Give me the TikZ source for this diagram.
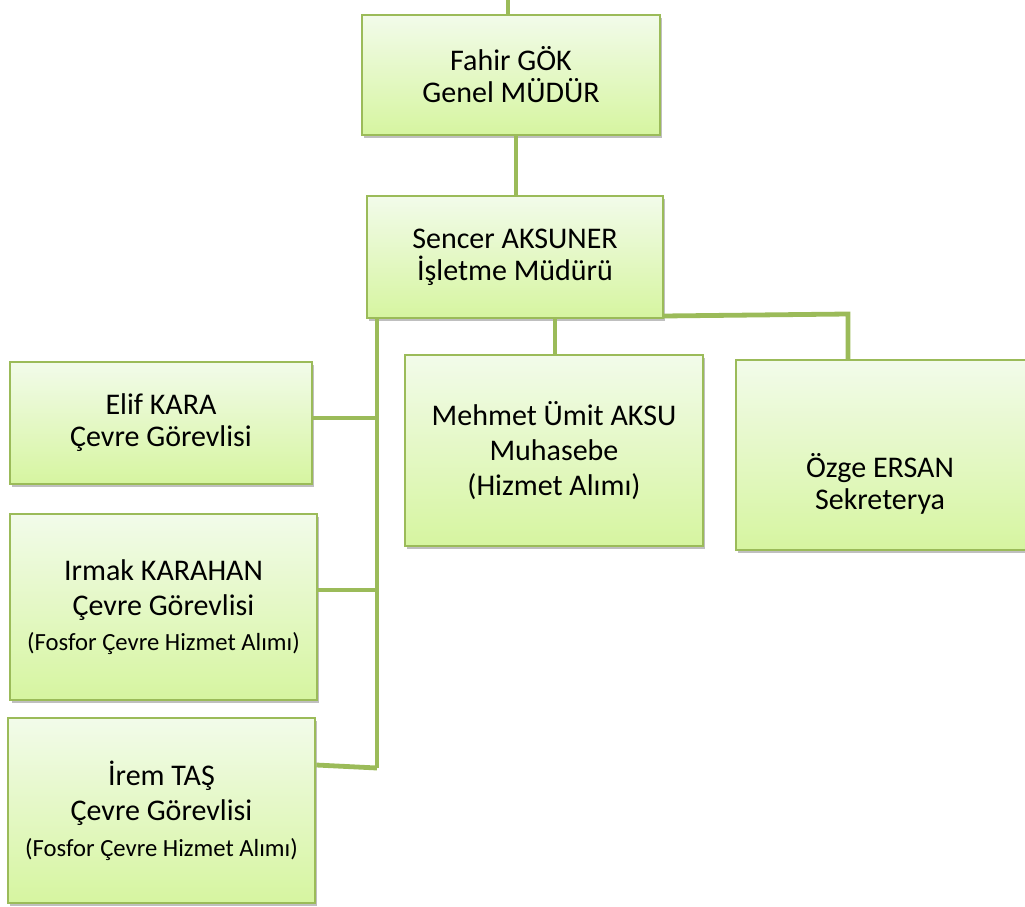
\documentclass[tikz,border=0pt]{standalone}
\usepackage{fontspec}
\setmainfont{Carlito}
\usetikzlibrary{shadows}
\definecolor{edge}{HTML}{9BBB59}
\definecolor{topc}{HTML}{F2FBEA}
\definecolor{botc}{HTML}{D6F5A0}
\tikzset{
  box/.style={draw=edge, line width=2pt, top color=topc, bottom color=botc,
    shading angle=0, align=center, inner sep=0pt, font=\fontsize{22.5}{24}\selectfont,
    drop shadow={shadow xshift=1.5pt, shadow yshift=-2pt, fill=black, opacity=0.25}},
  tallbox/.style={box, font=\fontsize{22.5}{26.5}\selectfont},
  conn/.style={draw=edge, line width=3.6pt}
}
\newcommand{\smalltxt}[1]{{\fontsize{18.5}{26.5}\selectfont #1}}
\begin{document}
\begin{tikzpicture}[x=0.75pt,y=-0.75pt]
\useasboundingbox (0,0) rectangle (1025,907);
% boxes
\node[box, minimum width=298*0.75pt, minimum height=120*0.75pt] (fahir) at (511,75) {Fahir GÖK\\Genel MÜDÜR};
\node[box, minimum width=296*0.75pt, minimum height=122*0.75pt] (sencer) at (515,257) {Sencer AKSUNER\\İşletme Müdürü};
\node[box, minimum width=302*0.75pt, minimum height=122*0.75pt] (elif) at (161,423) {Elif KARA\\Çevre Görevlisi};
\node[tallbox, minimum width=307*0.75pt, minimum height=186*0.75pt] (irmak) at (163.5,607) {Irmak KARAHAN\\Çevre Görevlisi\\\smalltxt{(Fosfor Çevre Hizmet Alımı)}};
\node[tallbox, minimum width=307*0.75pt, minimum height=185*0.75pt] (irem) at (161.5,810.5) {İrem TAŞ\\Çevre Görevlisi\\\smalltxt{(Fosfor Çevre Hizmet Alımı)}};
\node[tallbox, minimum width=298*0.75pt, minimum height=191*0.75pt] (mehmet) at (554,450.5) {Mehmet Ümit AKSU\\Muhasebe\\(Hizmet Alımı)};
\node[box, minimum width=300*0.75pt, minimum height=190*0.75pt] (ozge) at (886,455) {};
\node at (880,484) [align=center, font=\fontsize{22.5}{24}\selectfont] (ozgetext) {Özge ERSAN\\Sekreterya};
% connectors
\coordinate (topend) at (508,0);
\draw[conn] (topend) -- (fahir.north -| topend);
\draw[conn] (516,135) -- (516,196);
\coordinate (trunk) at (377,318);
\coordinate (trunkbot) at (377,768);
\draw[conn] (trunk) -- (trunkbot);
\draw[conn] (elif.east |- 0,418) -- (377,418);
\draw[conn] (irmak.east |- 0,590) -- (377,590);
\draw[conn] (irem.east |- 0,765) -- (377,768);
\draw[conn] (555,318) -- (mehmet.north -| 555,0);
\draw[conn] (663,316) -- (848,314) -- (848,360);
\end{tikzpicture}
\end{document}
